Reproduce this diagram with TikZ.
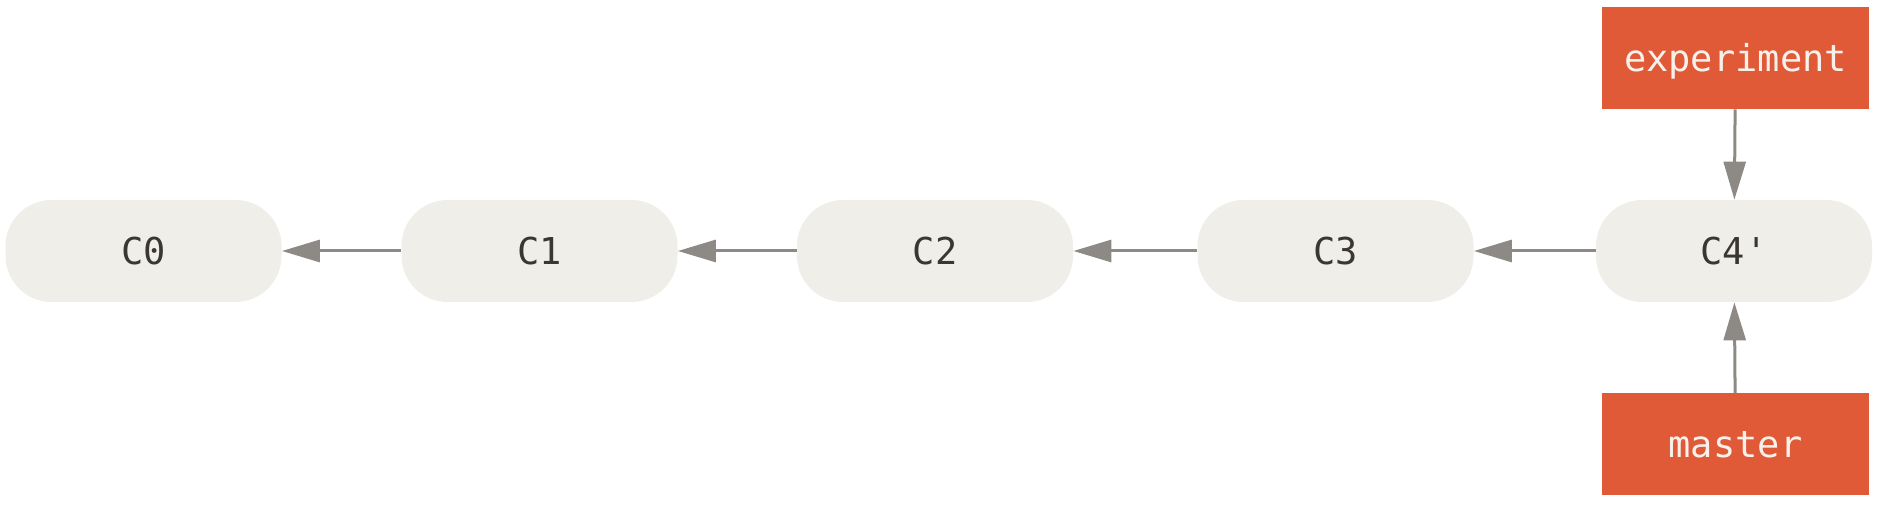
\documentclass[tikz,border=0pt]{standalone}
\usepackage{fontspec}
\setmonofont{DejaVu Sans Mono}
\usetikzlibrary{arrows.meta}
\definecolor{commitfill}{HTML}{EFEEE8}
\definecolor{branchfill}{HTML}{E05A38}
\definecolor{arrowgray}{HTML}{8D8A85}
\definecolor{textdark}{HTML}{3A3632}
\definecolor{textlight}{HTML}{F6F1EA}
\begin{document}
\begin{tikzpicture}[x=0.5pt,y=-0.5pt,
  lbl/.style={font=\ttfamily\fontsize{18.5}{20}\selectfont, text height=13.5pt, text depth=0pt, inner sep=0pt},
  commit/.style={lbl, fill=commitfill, rounded corners=23pt, minimum width=138pt, minimum height=51pt, text=textdark},
  branch/.style={lbl, fill=branchfill, minimum width=133.5pt, minimum height=51pt, text=textlight},
  link/.style={draw=arrowgray, line width=1.5pt, -{Triangle[length=19pt,width=11pt]}}]
\useasboundingbox (0,0) rectangle (1880,506);
\node[commit] (c0) at (143.5,251) {C0};
\node[commit] (c1) at (539.5,251) {C1};
\node[commit] (c2) at (935,251) {C2};
\node[commit] (c3) at (1335.5,251) {C3};
\node[commit] (c4) at (1734,251) {C4'};
\node[branch] (exp) at (1735.5,58) {experiment};
\node[branch] (mas) at (1735.5,444.5) {master};
\draw[link] (c1) -- (c0);
\draw[link] (c2) -- (c1);
\draw[link] (c3) -- (c2);
\draw[link] (c4) -- (c3);
\draw[link] (exp) -- (c4);
\draw[link] (mas) -- (c4);
\end{tikzpicture}
\end{document}
